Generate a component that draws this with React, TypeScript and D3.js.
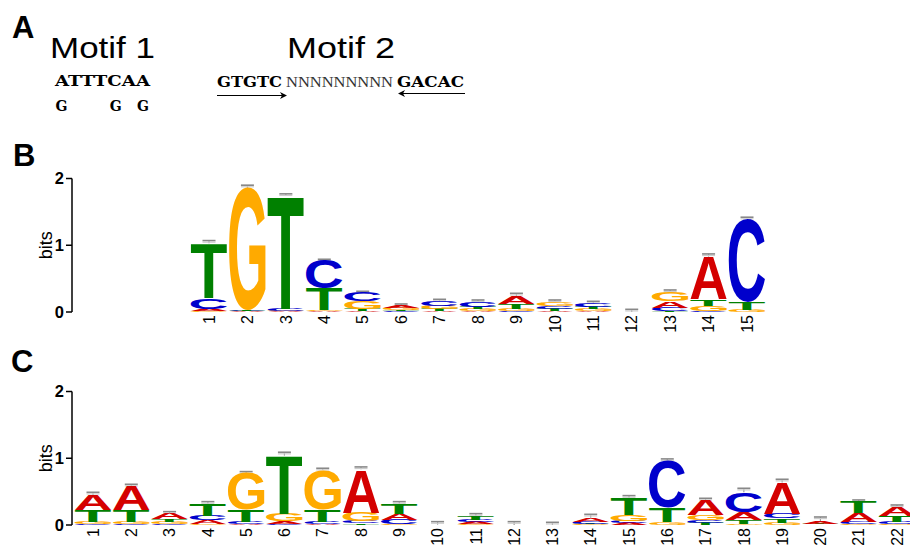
import React, { useMemo } from "react";
import * as d3 from "d3";

const W = 910;
const H = 548;

// Panel A text
const motif1Top = "ATTTCAA";
const motif1Alt = ["G", "", "", "", "G", "", "G"];
const motif2Left = "GTGTC";
const motif2Mid = "NNNNNNNNN";
const motif2Right = "GACAC";

// Panel B: information content (bits) per base, positions 1..15
const bPositions = d3.range(1, 16);
const bA = [0.04, 0.01, 0.01, 0.01, 0.02, 0.04, 0.01, 0.01, 0.12, 0.02, 0.01, 0, 0.1, 0.64, 0];
const bC = [0.16, 0.01, 0.03, 0.43, 0.13, 0.01, 0.08, 0.07, 0.01, 0.045, 0.06, 0, 0.05, 0.02, 1.25];
const bG = [0.01, 1.83, 0.01, 0.02, 0.11, 0.03, 0.05, 0.03, 0.04, 0.055, 0.03, 0, 0.13, 0.07, 0.03];
const bT = [0.82, 0.01, 1.7, 0.32, 0.03, 0.02, 0.03, 0.04, 0.07, 0.03, 0.03, 0, 0.01, 0.1, 0.12];
const bErr = [1.07, 1.9, 1.77, 0.79, 0.31, 0.12, 0.19, 0.18, 0.28, 0.18, 0.16, 0.04, 0.33, 0.87, 1.42];

// Panel C: positions 1..22
const cPositions = d3.range(1, 23);
const cA = [0.23, 0.36, 0.095, 0.05, 0.02, 0.04, 0.015, 0.65, 0.09, 0, 0.03, 0, 0, 0.06, 0.03, 0.005, 0.225, 0.11, 0.465, 0.03, 0.135, 0.125];
const cC = [0.02, 0.02, 0.01, 0.07, 0.03, 0.02, 0.035, 0.03, 0.07, 0, 0.03, 0, 0, 0.03, 0.035, 0.7, 0.04, 0.3, 0.07, 0.005, 0.03, 0.04];
const cG = [0.03, 0.03, 0.03, 0.02, 0.55, 0.11, 0.6, 0.13, 0.01, 0, 0.01, 0, 0, 0.01, 0.09, 0.035, 0.075, 0.02, 0.035, 0.005, 0.01, 0.01];
const cT = [0.17, 0.17, 0.045, 0.175, 0.175, 0.87, 0.175, 0.025, 0.15, 0.005, 0.06, 0, 0, 0.01, 0.25, 0.215, 0.03, 0.06, 0.065, 0.01, 0.17, 0.09];
const cErr = [0.49, 0.61, 0.2, 0.35, 0.8, 1.09, 0.85, 0.87, 0.35, 0.05, 0.17, 0.05, 0.04, 0.16, 0.44, 0.99, 0.4, 0.55, 0.685, 0.12, 0.375, 0.3];

const yTicks = [0, 1, 2];
const bases = ["A", "C", "G", "T"];
const baseColor: Record<string, string> = {
  A: "#d40000",
  C: "#0000cc",
  G: "#ffaa00",
  T: "#008000",
};

const LOGO_FONT = "Liberation Sans";
const FS = 100;

function useGlyphMetrics() {
  return useMemo(() => {
    const canvas = document.createElement("canvas");
    const ctx = canvas.getContext("2d")!;
    ctx.font = `bold ${FS}px "${LOGO_FONT}"`;
    const m: Record<string, { L: number; R: number; A: number; D: number }> = {};
    for (const b of bases) {
      const t = ctx.measureText(b);
      m[b] = {
        L: t.actualBoundingBoxLeft,
        R: t.actualBoundingBoxRight,
        A: t.actualBoundingBoxAscent,
        D: t.actualBoundingBoxDescent,
      };
    }
    return m;
  }, []);
}

type PanelProps = {
  positions: number[];
  A: number[];
  C: number[];
  G: number[];
  T: number[];
  err: number[];
  xRange: [number, number];
  yRange: [number, number];
  axisX: number;
  metrics: Record<string, { L: number; R: number; A: number; D: number }>;
};

function LogoPanel({ positions, A, C, G, T, err, xRange, yRange, axisX, metrics }: PanelProps) {
  const x = d3.scaleLinear().domain([positions[0], positions[positions.length - 1]]).range(xRange);
  const y = d3.scaleLinear().domain([0, 2]).range(yRange);
  const colW = 36.5;
  const series: Record<string, number[]> = { A, C, G, T };

  const cols = positions.map((p, i) => {
    const stack = bases
      .map((b) => ({ b, v: series[b][i] }))
      .filter((d) => d.v > 0)
      .sort((a, b2) => a.v - b2.v);
    let acc = 0;
    const letters = stack.map((d) => {
      const y0 = acc;
      acc += d.v;
      return { b: d.b, y0, y1: acc };
    });
    return { p, letters, total: acc, err: err[i] };
  });

  return (
    <g>
      {/* y axis */}
      <line x1={axisX} x2={axisX} y1={y(2)} y2={y(0)} stroke="#000" strokeWidth={1.5} />
      {yTicks.map((t) => (
        <g key={t}>
          <line x1={axisX - 6} x2={axisX} y1={y(t)} y2={y(t)} stroke="#000" strokeWidth={1.5} />
          <text
            x={axisX - 8}
            y={y(t)}
            dy="0.36em"
            textAnchor="end"
            fontFamily="Liberation Sans"
            fontWeight="bold"
            fontSize={16.5}
          >
            {t}
          </text>
        </g>
      ))}
      <text
        transform={`translate(${axisX - 20},${(y(0) + y(2)) / 2}) rotate(-90)`}
        textAnchor="middle"
        fontFamily="Liberation Sans"
        fontSize={18}
      >
        bits
      </text>
      {cols.map((c) => {
        const cx = x(c.p);
        const left = cx - colW / 2;
        return (
          <g key={c.p}>
            {/* error bar */}
            <line x1={cx} x2={cx} y1={y(c.total)} y2={y(c.err)} stroke="#999" strokeWidth={1.2} />
            <line x1={cx - 6.5} x2={cx + 6.5} y1={y(c.err)} y2={y(c.err)} stroke="#888" strokeWidth={1.6} />
            <line x1={cx - 6.5} x2={cx + 6.5} y1={y(c.err) + 1.6} y2={y(c.err) + 1.6} stroke="#ccc" strokeWidth={1.2} />
            {c.letters.map((l) => {
              const m = metrics[l.b];
              const top = y(l.y1);
              const h = y(l.y0) - y(l.y1);
              const sx = colW / (m.L + m.R);
              const sy = h / (m.A + m.D);
              return (
                <text
                  key={l.b}
                  transform={`translate(${left},${top}) scale(${sx},${sy}) translate(${m.L},${m.A})`}
                  fontFamily={LOGO_FONT}
                  fontWeight="bold"
                  fontSize={FS}
                  fill={baseColor[l.b]}
                >
                  {l.b}
                </text>
              );
            })}
            {/* position label */}
            <text
              transform={`translate(${cx},${y(0) + 3}) rotate(-90)`}
              textAnchor="end"
              dy="0.36em"
              fontFamily="Liberation Sans"
              fontSize={16}
            >
              {c.p}
            </text>
          </g>
        );
      })}
    </g>
  );
}

export default function App() {
  const metrics = useGlyphMetrics();
  const seqFont = "DejaVu Serif";
  const m1x = d3.scaleLinear().domain([0, motif1Top.length]).range([55, 150]);

  return (
    <svg
      width={W}
      height={H}
      viewBox={`0 0 ${W} ${H}`}
      style={{ position: "absolute", left: 0, top: 0, background: "#fff" }}
    >
      <rect width={W} height={H} fill="#fff" />
      {/* Panel labels */}
      <text x={12} y={38} fontFamily="Liberation Sans" fontWeight="bold" fontSize={31}>A</text>
      <text x={13} y={166} fontFamily="Liberation Sans" fontWeight="bold" fontSize={31}>B</text>
      <text x={11} y={372} fontFamily="Liberation Sans" fontWeight="bold" fontSize={31}>C</text>

      {/* Panel A */}
      <text x={50} y={58} fontFamily="Liberation Sans" fontSize={29} textLength={105} lengthAdjust="spacingAndGlyphs">
        Motif 1
      </text>
      <text x={287} y={58} fontFamily="Liberation Sans" fontSize={29} textLength={108} lengthAdjust="spacingAndGlyphs">
        Motif 2
      </text>
      <text x={55} y={86} fontFamily={seqFont} fontWeight="bold" fontSize={14} textLength={95} lengthAdjust="spacingAndGlyphs">
        {motif1Top}
      </text>
      {motif1Alt.map((g, i) =>
        g ? (
          <text key={i} x={m1x(i) + 0.5} y={111} fontFamily={seqFont} fontWeight="bold" fontSize={14}>
            {g}
          </text>
        ) : null
      )}
      <text x={217} y={87} fontFamily={seqFont} fontWeight="bold" fontSize={14} textLength={65} lengthAdjust="spacingAndGlyphs">
        {motif2Left}
      </text>
      <text x={286} y={87} fontFamily="Liberation Serif" fontSize={15} fill="#333" textLength={107} lengthAdjust="spacingAndGlyphs">
        {motif2Mid}
      </text>
      <text x={397} y={87} fontFamily={seqFont} fontWeight="bold" fontSize={14} textLength={67} lengthAdjust="spacingAndGlyphs">
        {motif2Right}
      </text>
      {/* arrows */}
      <line x1={217} x2={284} y1={95.5} y2={95.5} stroke="#000" strokeWidth={1.2} />
      <path d="M 280 92 L 287 95.5 L 280 99 L 282 95.5 Z" fill="#000" />
      <line x1={401} x2={465} y1={93.5} y2={93.5} stroke="#000" strokeWidth={1.2} />
      <path d="M 405 90 L 398 93.5 L 405 97 L 403 93.5 Z" fill="#000" />

      {/* Panel B */}
      <LogoPanel
        positions={bPositions}
        A={bA}
        C={bC}
        G={bG}
        T={bT}
        err={bErr}
        xRange={[209, 747]}
        yRange={[312, 178.5]}
        axisX={72}
        metrics={metrics}
      />
      {/* Panel C */}
      <LogoPanel
        positions={cPositions}
        A={cA}
        C={cC}
        G={cG}
        T={cT}
        err={cErr}
        xRange={[93, 897]}
        yRange={[525, 391.5]}
        axisX={72}
        metrics={metrics}
      />
    </svg>
  );
}
